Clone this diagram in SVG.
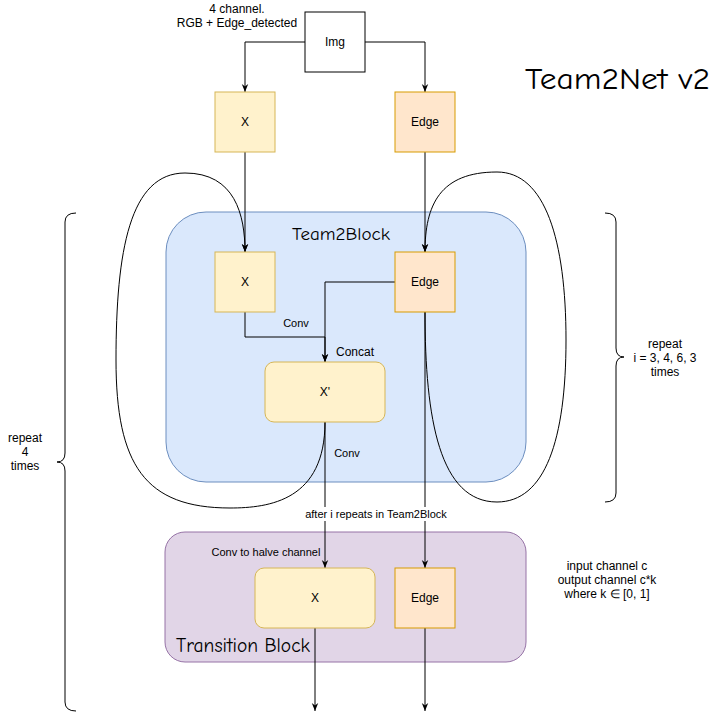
<svg xmlns="http://www.w3.org/2000/svg" width="718" height="722" viewBox="0 0 718 722">
<style>
.t{font-family:"Liberation Sans",Arial,sans-serif;fill:#000;text-anchor:middle}
.n12{font-size:12px}
.n11{font-size:11px}
.hand{font-family:"Comic Neue","Noto Sans",sans-serif;fill:#000}
.ln{fill:none;stroke:#000;stroke-width:1}
.xbox{fill:#fff2cc;stroke:#d6b656}
.ebox{fill:#ffe6cc;stroke:#d79b00}
</style>
<defs>
<marker id="arr" viewBox="0 0 10 10" refX="10" refY="5" markerWidth="8" markerHeight="8" markerUnits="userSpaceOnUse" orient="auto">
<path d="M0,1 L10,5 L0,9 L3,5 z" fill="#000"/>
</marker>
</defs>
<rect width="718" height="722" fill="#fff"/>

<g id="team2block">
<rect x="166" y="212" width="360" height="270" rx="40" fill="#dae8fc" stroke="#6c8ebf"/>
<text class="hand" x="292" y="240" font-size="18" textLength="98" lengthAdjust="spacingAndGlyphs">Team2Block</text>
</g>
<g id="transition">
<rect x="165" y="532" width="361" height="130" rx="20" fill="#e1d5e7" stroke="#9673a6"/>
<text class="hand" x="176" y="652" font-size="20" textLength="134" lengthAdjust="spacingAndGlyphs">Transition Block</text>
</g>

<g id="connectors">
<path class="ln" d="M305,42 H245 V92" marker-end="url(#arr)"/>
<path class="ln" d="M365,42 H425 V92" marker-end="url(#arr)"/>
<path class="ln" d="M245,152 V252" marker-end="url(#arr)"/>
<path class="ln" d="M425,152 V252" marker-end="url(#arr)"/>
<path class="ln" d="M245,312 V337 H325 V362" marker-end="url(#arr)"/>
<path class="ln" d="M395,282 H325 V362" marker-end="url(#arr)"/>
<path class="ln" d="M325,422 C325,500 270,508 230,508 C145,508 116,465 116,360 C116,250 130,173 185,173 C235,173 245,215 245,252" marker-end="url(#arr)"/>
<path class="ln" d="M425,312 C425,420 440,502 497,502 C545,502 566,440 566,340 C566,240 545,172 497,172 C440,172 425,205 425,252" marker-end="url(#arr)"/>
<path class="ln" d="M325,422 V568" marker-end="url(#arr)"/>
<path class="ln" d="M425,312 V568" marker-end="url(#arr)"/>
<path class="ln" d="M315,628 V711" marker-end="url(#arr)"/>
<path class="ln" d="M425,628 V711" marker-end="url(#arr)"/>
<text class="t n11" x="296" y="327">Conv</text>
<text class="t n12" x="355" y="356">Concat</text>
<text class="t n11" x="347" y="457">Conv</text>
<rect x="305" y="507" width="142" height="14" fill="#fff"/>
<text class="t n11" x="376" y="518">after i repeats in Team2Block</text>
<text class="t n11" x="266" y="556">Conv to halve channel</text>
</g>

<g id="img">
<rect x="305" y="12" width="60" height="60" fill="#fff" stroke="#000"/>
<text class="t n12" x="335" y="46">Img</text>
</g>
<g id="x-top">
<rect class="xbox" x="215" y="92" width="60" height="60"/>
<text class="t n12" x="245" y="126">X</text>
</g>
<g id="edge-top">
<rect class="ebox" x="395" y="92" width="60" height="60"/>
<text class="t n12" x="425" y="126">Edge</text>
</g>
<g id="x-block">
<rect class="xbox" x="215" y="252" width="60" height="60"/>
<text class="t n12" x="245" y="286">X</text>
</g>
<g id="edge-block">
<rect class="ebox" x="395" y="252" width="60" height="60"/>
<text class="t n12" x="425" y="286">Edge</text>
</g>
<g id="xprime">
<rect class="xbox" x="265" y="362" width="120" height="60" rx="9"/>
<text class="t n12" x="325" y="396">X'</text>
</g>
<g id="x-trans">
<rect class="xbox" x="255" y="568" width="120" height="60" rx="9"/>
<text class="t n12" x="315" y="602">X</text>
</g>
<g id="edge-trans">
<rect class="ebox" x="395" y="568" width="60" height="60"/>
<text class="t n12" x="425" y="602">Edge</text>
</g>

<g id="input-label">
<text class="t n12" x="237" y="13">4 channel.</text>
<text class="t n12" x="237" y="27">RGB + Edge_detected</text>
</g>
<g id="title">
<text class="hand" x="525" y="89" font-size="31" textLength="185" lengthAdjust="spacingAndGlyphs">Team2Net v2</text>
</g>
<g id="brace-left">
<path class="ln" d="M76,213 Q65,213 65,222 V453 Q65,462 57,462 Q65,462 65,471 V702 Q65,711 76,711"/>
<text class="t n12" x="25" y="442">repeat</text>
<text class="t n12" x="25" y="456">4</text>
<text class="t n12" x="25" y="470">times</text>
</g>
<g id="brace-right">
<path class="ln" d="M605,213 Q616,213 616,222 V348 Q616,357 624,357 Q616,357 616,366 V493 Q616,502 605,502"/>
<text class="t n12" x="665" y="348">repeat</text>
<text class="t n12" x="665" y="362">i = 3, 4, 6, 3</text>
<text class="t n12" x="665" y="376">times</text>
</g>
<g id="transition-note">
<text class="t n12" x="607" y="570">input channel c</text>
<text class="t n12" x="607" y="584">output channel c*k</text>
<text class="t n12" x="607" y="598">where k ∈ [0, 1]</text>
</g>
</svg>
